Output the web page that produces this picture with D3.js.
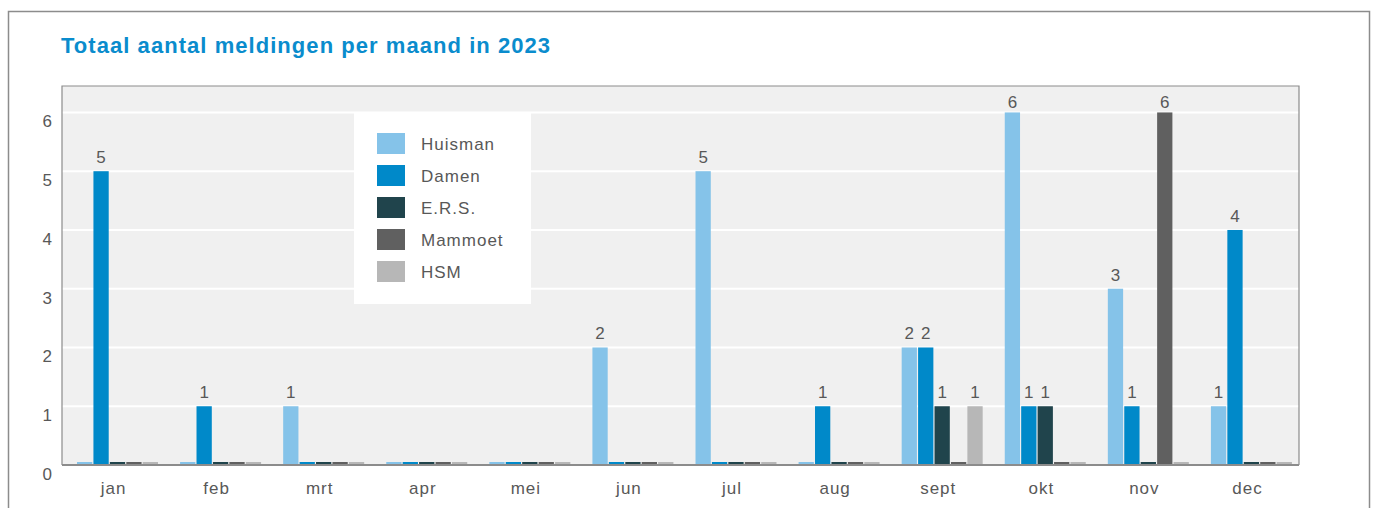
<!DOCTYPE html>
<html>
<head>
<meta charset="utf-8">
<script src="https://cdn.jsdelivr.net/npm/d3@7"></script>
<style>
body { margin: 0; background: #fff; }
text { font-family: "Liberation Sans", Arial, sans-serif; }
</style>
</head>
<body>
<div id="chart"></div>
<script>
var months = ["jan", "feb", "mrt", "apr", "mei", "jun", "jul", "aug", "sept", "okt", "nov", "dec"]
var series = ["Huisman", "Damen", "E.R.S.", "Mammoet", "HSM"]
var colors = ["#85c3e9", "#0089c9", "#20444c", "#606060", "#b7b7b7"]

var huisman = [0, 0, 1, 0, 0, 2, 5, 0, 2, 6, 3, 1]
var damen   = [5, 1, 0, 0, 0, 0, 0, 1, 2, 1, 1, 4]
var ers     = [0, 0, 0, 0, 0, 0, 0, 0, 1, 1, 0, 0]
var mammoet = [0, 0, 0, 0, 0, 0, 0, 0, 0, 0, 6, 0]
var hsm     = [0, 0, 0, 0, 0, 0, 0, 0, 1, 0, 0, 0]
var values = [huisman, damen, ers, mammoet, hsm]

var y_ticks = [0, 1, 2, 3, 4, 5, 6]

var width = 1375
var height = 508
var plot = {left: 62, right: 1299, top: 86, bottom: 465}
var text_color = "#585858"

var svg = d3.select("#chart")
	.append("svg")
	.attr("width", width)
	.attr("height", height)

// outer frame
svg.append("rect")
	.attr("x", 8.5)
	.attr("y", 11.5)
	.attr("width", 1361)
	.attr("height", 520)
	.attr("fill", "none")
	.attr("stroke", "#8c8c8c")
	.attr("stroke-width", 1.5)

svg.append("text")
	.attr("x", 61)
	.attr("y", 53)
	.attr("fill", "#0a8ccd")
	.attr("font-size", 22)
	.attr("font-weight", "bold")
	.attr("letter-spacing", 1.05)
	.text("Totaal aantal meldingen per maand in 2023")

var x = d3.scaleBand()
	.domain(months)
	.range([plot.left, plot.right])

var x_inner = d3.scaleBand()
	.domain(series)
	.range([15, 96])
	.paddingInner(0.07)

var y = d3.scaleLinear()
	.domain([0, 6.45])
	.range([plot.bottom, plot.top])

// plot background
svg.append("rect")
	.attr("x", plot.left)
	.attr("y", plot.top)
	.attr("width", plot.right - plot.left)
	.attr("height", plot.bottom - plot.top)
	.attr("fill", "#f0f0f0")

// white grid lines
svg.append("g")
	.selectAll("line")
	.data(y_ticks.filter(function(d) { return d > 0 }))
	.join("line")
	.attr("x1", plot.left)
	.attr("x2", plot.right)
	.attr("y1", function(d) { return y(d) })
	.attr("y2", function(d) { return y(d) })
	.attr("stroke", "#fff")
	.attr("stroke-width", 2)

// y labels
svg.append("g")
	.selectAll("text")
	.data(y_ticks)
	.join("text")
	.attr("x", 52)
	.attr("y", function(d) { return y(d) + 15 })
	.attr("text-anchor", "end")
	.attr("font-size", 17)
	.attr("fill", text_color)
	.text(function(d) { return d })

// bars
for (var s = 0; s < series.length; s++) {
	var g = svg.append("g").attr("class", "series")
	var rows = values[s].map(function(v, i) { return {month: months[i], value: v, name: series[s]} })
	g.selectAll("rect")
		.data(rows)
		.join("rect")
		.attr("x", function(d) { return x(d.month) + x_inner(d.name) })
		.attr("width", x_inner.bandwidth())
		.attr("y", function(d) { return d.value > 0 ? y(d.value) : plot.bottom - 3 })
		.attr("height", function(d) { return d.value > 0 ? plot.bottom - y(d.value) : 3 })
		.attr("fill", colors[s])
	g.selectAll("text")
		.data(rows.filter(function(d) { return d.value > 0 }))
		.join("text")
		.attr("x", function(d) { return x(d.month) + x_inner(d.name) + x_inner.bandwidth() / 2 })
		.attr("y", function(d) { return Math.max(y(d.value) - 8, 108) })
		.attr("text-anchor", "middle")
		.attr("font-size", 17)
		.attr("fill", text_color)
		.text(function(d) { return d.value })
}

// plot border
svg.append("path")
	.attr("d", "M" + plot.left + "," + plot.bottom + "V" + plot.top + "H" + plot.right + "V" + plot.bottom)
	.attr("fill", "none")
	.attr("stroke", "#8c8c8c")
	.attr("stroke-width", 1.2)

svg.append("line")
	.attr("x1", plot.left)
	.attr("x2", plot.right)
	.attr("y1", plot.bottom)
	.attr("y2", plot.bottom)
	.attr("stroke", "#8c8c8c")
	.attr("stroke-width", 2)

// month labels
svg.append("g")
	.selectAll("text")
	.data(months)
	.join("text")
	.attr("x", function(d) { return x(d) + x.bandwidth() / 2 })
	.attr("y", 494)
	.attr("text-anchor", "middle")
	.attr("font-size", 17)
	.attr("letter-spacing", 1)
	.attr("fill", text_color)
	.text(function(d) { return d })

// legend
var legend = svg.append("g").attr("transform", "translate(354,113)")
legend.append("rect")
	.attr("width", 177)
	.attr("height", 191)
	.attr("fill", "#fff")

var item = legend.selectAll("g")
	.data(series)
	.join("g")
	.attr("transform", function(d, i) { return "translate(23," + (20 + i * 32) + ")" })
item.append("rect")
	.attr("width", 28)
	.attr("height", 21)
	.attr("fill", function(d, i) { return colors[i] })
item.append("text")
	.attr("x", 44)
	.attr("y", 17)
	.attr("font-size", 17)
	.attr("letter-spacing", 1)
	.attr("fill", text_color)
	.text(function(d) { return d })
</script>
</body>
</html>
